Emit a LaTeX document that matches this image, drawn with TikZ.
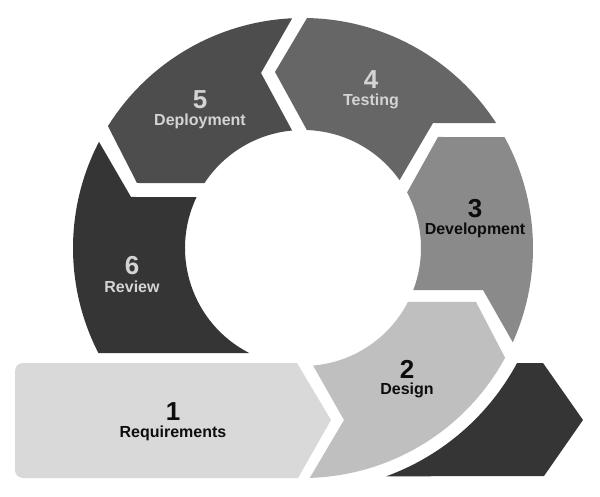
\documentclass[tikz,border=0pt]{standalone}
\usepackage{fontspec}
\setmainfont{Liberation Sans}
\usetikzlibrary{calc}
\definecolor{cOne}{HTML}{D9D9D9}
\definecolor{cTwo}{HTML}{BFBFBF}
\definecolor{cThree}{HTML}{8A8A8A}
\definecolor{cFour}{HTML}{666666}
\definecolor{cFive}{HTML}{4D4D4D}
\definecolor{cSix}{HTML}{353535}
\definecolor{cTail}{HTML}{353535}
\definecolor{lightText}{HTML}{D4D4D4}
\definecolor{darkText}{HTML}{0D0D0D}
\begin{document}
\begin{tikzpicture}[x=1pt,y=1pt,
  numtxt/.style={anchor=base, inner sep=0pt, font=\bfseries\fontsize{26}{28}\selectfont},
  labtxt/.style={anchor=base, inner sep=0pt, font=\bfseries\fontsize{16}{18}\selectfont},
  onDark/.style={text=lightText},
  onLight/.style={text=darkText}]
\useasboundingbox (0,0) rectangle (600,496);
\fill[white] (0,0) rectangle (600,496);
\coordinate (C) at (303,248);

% 1 Requirements
\fill[cOne] (297,133) -- (331,76) -- (298,18) -- (23,18)
  arc[start angle=270, end angle=180, radius=8] -- (15,125)
  arc[start angle=180, end angle=90, radius=8] -- cycle;

% 2 Design
\fill[cTwo] ($(C)+(-88.3:230)$) arc[start angle=-88.3, end angle=-28.5, radius=230]
  -- (476,194) -- ($(C)+(-27.2:118)$)
  arc[start angle=-27.2, end angle=-85.1, radius=118]
  -- (344,76) -- cycle;

% 3 Development
\fill[cThree] ($(C)+(-24.2:230)$) arc[start angle=-24.2, end angle=28.85, radius=230]
  -- (438,359) -- ($(C)+(28.1:118)$)
  arc[start angle=28.1, end angle=-20.9, radius=118]
  -- (483,206) -- cycle;

% 4 Testing
\fill[cFour] ($(C)+(32.9:230)$) arc[start angle=32.9, end angle=89.0, radius=230]
  -- (275,424) -- ($(C)+(88.1:118)$)
  arc[start angle=88.1, end angle=35.1, radius=118]
  -- (433,373) -- cycle;

% 5 Deployment
\fill[cFive] ($(C)+(92.7:230)$) arc[start angle=92.7, end angle=148.0, radius=230]
  -- (137,313) -- ($(C)+(146.6:118)$)
  arc[start angle=146.6, end angle=95.3, radius=118]
  -- (261,423) -- cycle;

% 6 Review
\fill[cSix] ($(C)+(152.5:230)$) arc[start angle=152.5, end angle=207.2, radius=230]
  -- ($(C)+(242.9:118)$)
  arc[start angle=242.9, end angle=154.4, radius=118]
  -- (131,299) -- cycle;

% tail arrow
\fill[cTail] ($(C)+(-70:243)$) arc[start angle=-70, end angle=-28.3, radius=243]
  -- (543,133) -- (583,76) -- (544,20) -- cycle;

% labels
\node[numtxt, onLight] (n1) at (173,76) {1};
\node[labtxt, onLight] (l1) at (173,59) {Requirements};
\node[numtxt, onLight] (n2) at (407,118) {2};
\node[labtxt, onLight] (l2) at (407,102) {Design};
\node[numtxt, onLight] (n3) at (475,278) {3};
\node[labtxt, onLight] (l3) at (475,261) {Development};
\node[numtxt, onDark] (n4) at (371,407) {4};
\node[labtxt, onDark] (l4) at (371,390) {Testing};
\node[numtxt, onDark] (n5) at (200,387) {5};
\node[labtxt, onDark] (l5) at (200,370) {Deployment};
\node[numtxt, onDark] (n6) at (132,221) {6};
\node[labtxt, onDark] (l6) at (132,204) {Review};
\end{tikzpicture}
\end{document}
